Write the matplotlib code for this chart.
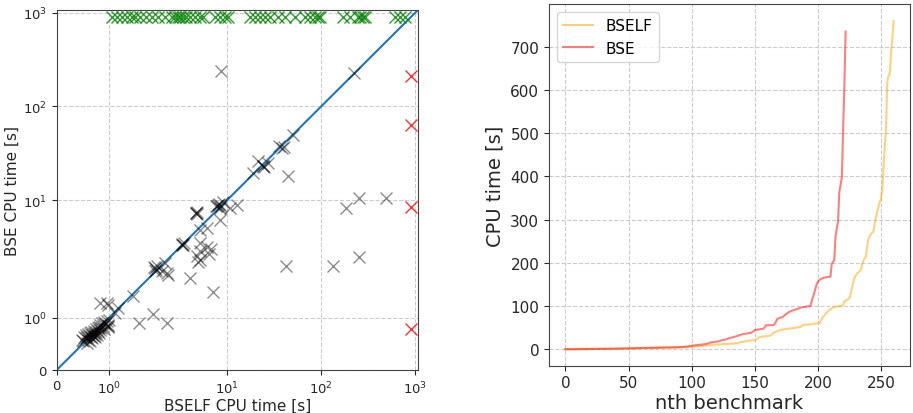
import matplotlib
matplotlib.use("Agg")
import matplotlib.pyplot as plt

TIMEOUT = 900

# benchmarks solved by both tools (BSELF time, BSE time) [s]
both_bself = [
    0.47, 0.5, 0.52, 0.55, 0.55, 0.58, 0.6, 0.6, 0.62, 0.63,
    0.65, 0.66, 0.68, 0.68, 0.7, 0.7, 0.72, 0.73, 0.74, 0.75,
    0.76, 0.78, 0.78, 0.8, 0.8, 0.82, 0.83, 0.85, 0.86, 0.88,
    0.9, 0.9, 0.92, 0.95, 0.97, 0.98, 1.0, 0.64, 0.57, 0.7,
    0.82, 0.95, 0.98, 1.11, 1.17, 1.46, 1.58, 1.83, 2.27, 0.98,
    1.88, 1.9, 1.85, 1.92, 1.87, 2.04,
    2.18, 2.36, 2.27, 4.03, 4.93, 7.0,
    3.3, 3.4, 3.45, 3.35,
    5.14, 6.07, 6.8, 5.1, 6.4, 4.74, 5.14,
    5.14, 6.07, 4.7, 4.75, 4.8, 4.65, 8.4, 8.05, 7.9, 8.1, 7.6,
    8.4, 10.7, 12.6, 8.6, 9.0,
    19.0, 21.4, 24.3, 24.0, 24.5, 27.4, 38.0, 36.0, 40.0, 50.0, 44.0,
    182.0, 255.0, 490.0, 255.0, 133.0, 42.0,
    8.6, 224.0,
]
both_bse = [
    0.58, 0.55, 0.62, 0.6, 0.66, 0.63, 0.58, 0.68, 0.64, 0.7,
    0.62, 0.72, 0.66, 0.6, 0.7, 0.75, 0.68, 0.62, 0.78, 0.72,
    0.66, 0.8, 0.74, 0.7, 0.82, 0.77, 0.86, 0.8, 0.9, 0.84,
    0.92, 0.78, 0.88, 0.93, 0.86, 0.82, 0.95, 0.56, 0.52, 0.64,
    1.28, 1.29, 1.25, 1.09, 1.18, 1.41, 0.9, 1.07, 0.9, 0.84,
    1.95, 1.92, 1.98, 2.0, 1.9, 1.89,
    2.12, 1.82, 1.86, 1.76, 2.21, 1.5,
    3.4, 3.35, 3.5, 3.3,
    3.48, 3.2, 3.0, 2.9, 2.63, 2.52, 2.31,
    4.83, 5.04, 7.3, 7.4, 7.2, 7.35, 6.2, 8.9, 8.7, 9.0, 8.7,
    8.2, 8.2, 8.9, 8.7, 9.5,
    19.5, 25.9, 22.9, 23.2, 22.6, 24.8, 36.0, 38.0, 37.0, 50.0, 18.0,
    8.2, 10.5, 10.6, 2.5, 2.0, 2.0,
    242.0, 230.0,
]

# BSE timed out, BSELF solved: BSELF time [s]
bse_timeout_bself = [
    1.05, 1.15, 1.24, 1.34, 1.44, 1.49, 1.59, 1.7, 1.82, 1.93,
    2.18, 2.59, 2.79, 3.0, 3.15, 3.39, 3.65, 4.03, 4.55, 5.14,
    5.53, 7.43, 8.4, 9.5, 10.2, 17.5, 19.8, 22.4, 25.3, 28.6,
    34.8, 41.3, 52.8, 67.4, 76.1, 86.1, 92.7, 97.3, 171.0, 203.0,
    247.0, 259.0, 279.0, 293.0, 611.0, 691.0, 780.0,
]

# BSELF timed out, BSE solved: BSE time [s]
bself_timeout_bse = [213.0, 63.0, 8.4, 0.79]

# sorted solve times for the cactus plot [s]
bself_sorted = [
    0.4, 0.45, 0.5, 0.5, 0.52, 0.55, 0.55, 0.58, 0.6, 0.6,
    0.62, 0.63, 0.65, 0.66, 0.68, 0.7, 0.7, 0.72, 0.74, 0.75,
    0.76, 0.78, 0.8, 0.8, 0.82, 0.84, 0.85, 0.87, 0.88, 0.9,
    0.92, 0.95, 0.97, 1.0, 1.02, 1.05, 1.1, 1.12, 1.15, 1.2,
    1.25, 1.3, 1.35, 1.4, 1.45, 1.5, 1.55, 1.6, 1.7, 1.75,
    1.8, 1.85, 1.9, 1.95, 2.0, 2.1, 2.2, 2.3, 2.4, 2.5,
    2.6, 2.7, 2.8, 2.9, 3.0, 3.1, 3.2, 3.3, 3.4, 3.5,
    3.6, 3.7, 3.8, 3.9, 4.0, 4.0, 4.1, 4.1, 4.2, 4.2,
    4.3, 4.3, 4.4, 4.4, 4.5, 4.5, 4.6, 4.6, 4.7, 4.8,
    4.9, 5.0, 5.0, 5.1, 5.2, 5.3, 5.3, 5.4, 5.5, 5.6,
    5.8, 6.0, 6.3, 6.5, 6.8, 7.0, 7.3, 7.5, 7.7, 8.0,
    8.3, 8.6, 9.0, 9.4, 9.8, 10.2, 10.5, 10.8, 11.0, 11.2,
    11.4, 11.5, 11.7, 11.8, 12.0, 12.1, 12.2, 12.3, 12.5, 12.6,
    12.8, 13.0, 13.2, 13.5, 13.8, 14.0, 14.2, 14.5, 16.0, 17.0,
    17.5, 18.0, 18.5, 19.0, 19.5, 20.0, 20.5, 21.0, 21.2, 21.5,
    21.5, 23.0, 25.0, 27.0, 28.5, 29.0, 29.5, 30.0, 30.0, 30.5,
    30.8, 31.5, 32.0, 32.6, 36.0, 39.0, 40.0, 41.0, 42.5, 43.5,
    44.6, 45.5, 46.0, 46.5, 47.0, 47.3, 47.6, 48.0, 48.0, 48.5,
    49.0, 49.5, 50.0, 50.5, 51.0, 51.5, 52.0, 54.0, 56.0, 56.5,
    57.0, 57.2, 57.5, 57.7, 57.8, 58.0, 59.0, 59.5, 59.8, 60.0,
    60.0, 60.5, 65.0, 70.0, 75.0, 78.0, 82.0, 85.0, 88.0, 90.7,
    93.0, 95.0, 97.0, 98.0, 98.5, 99.0, 99.5, 100.0, 100.5, 101.0,
    102.0, 110.0, 112.0, 115.0, 116.0, 118.0, 128.0, 141.0, 155.0, 165.0,
    171.0, 175.0, 178.0, 181.0, 183.0, 195.0, 205.0, 210.0, 214.0, 235.0,
    256.0, 262.0, 266.0, 270.0, 272.0, 290.0, 305.0, 318.0, 330.0, 340.0,
    348.0, 371.0, 418.0, 470.0, 510.0, 618.0, 633.0, 637.0, 687.0, 720.0,
    760.0,
]
bse_sorted = [
    0.4, 0.45, 0.5, 0.52, 0.55, 0.58, 0.6, 0.62, 0.65, 0.68,
    0.7, 0.72, 0.75, 0.78, 0.8, 0.82, 0.85, 0.88, 0.9, 0.92,
    0.95, 1.0, 1.05, 1.1, 1.15, 1.2, 1.25, 1.3, 1.3, 1.3,
    1.35, 1.4, 1.45, 1.5, 1.55, 1.6, 1.65, 1.7, 1.75, 1.8,
    1.85, 1.9, 1.95, 2.0, 2.05, 2.1, 2.15, 2.2, 2.3, 2.4,
    2.5, 2.6, 2.7, 2.8, 2.9, 3.0, 3.1, 3.2, 3.3, 3.4,
    3.5, 3.5, 3.6, 3.6, 3.7, 3.7, 3.8, 3.8, 3.9, 3.9,
    4.0, 4.0, 4.1, 4.1, 4.2, 4.2, 4.3, 4.3, 4.4, 4.4,
    4.5, 4.5, 4.6, 4.6, 4.7, 4.7, 4.8, 4.8, 4.9, 5.0,
    5.2, 5.4, 5.6, 5.8, 6.0, 6.3, 6.6, 7.0, 7.5, 8.0,
    8.5, 9.0, 9.3, 9.6, 9.9, 10.2, 10.5, 10.8, 11.0, 11.5,
    12.0, 12.5, 13.0, 14.0, 15.0, 16.0, 16.5, 17.0, 17.5, 17.8,
    18.0, 18.5, 19.0, 20.0, 21.5, 22.0, 22.5, 23.0, 24.0, 25.0,
    26.0, 27.0, 27.7, 28.5, 29.0, 30.0, 31.0, 32.0, 33.0, 34.0,
    35.0, 35.5, 36.0, 36.5, 37.0, 37.5, 38.0, 38.5, 40.0, 42.0,
    44.6, 45.0, 45.5, 46.0, 46.5, 47.0, 47.5, 48.0, 52.0, 56.0,
    56.0, 56.0, 56.0, 56.0, 56.0, 56.5, 60.0, 65.0, 71.0, 72.0,
    73.0, 74.0, 75.0, 77.0, 80.0, 82.0, 84.0, 86.0, 88.0, 89.0,
    90.0, 91.0, 92.0, 93.0, 94.0, 95.0, 96.0, 97.0, 97.5, 98.0,
    98.5, 99.0, 99.5, 100.0, 100.0, 110.0, 120.0, 129.0, 140.0, 150.0,
    156.0, 160.0, 162.0, 164.0, 165.0, 166.0, 166.5, 167.0, 167.5, 168.0,
    168.0, 198.0, 202.0, 206.0, 260.0, 280.0, 295.0, 364.0, 380.0, 398.0,
    500.0, 610.0, 735.0,
]

plt.rcParams["font.family"] = "DejaVu Sans"
text_col = "#262626"

fig = plt.figure(figsize=(9.13, 4.14), dpi=100)
ax1 = fig.add_axes([0.0624, 0.1046, 0.3957, 0.8696])
ax2 = fig.add_axes([0.6013, 0.1143, 0.3954, 0.8729])

# --- scatter: BSELF vs BSE ---
lim = 1.2 * TIMEOUT
ax1.plot([0, lim], [0, lim], color="C0", lw=1.5, zorder=2)
ax1.plot(both_bself, both_bse, "x", color="black", alpha=0.45,
         ms=8.5, mew=1.0, zorder=3)
ax1.plot(bse_timeout_bself, [TIMEOUT] * len(bse_timeout_bself), "x",
         color="green", alpha=0.8, ms=8.5, mew=1.0, zorder=3)
ax1.plot([TIMEOUT] * len(bself_timeout_bse), bself_timeout_bse, "x",
         color="red", alpha=0.8, ms=8.5, mew=1.0, zorder=3)
ax1.set_xscale("symlog", linthresh=2)
ax1.set_yscale("symlog", linthresh=2)
ax1.set_xlim(0, lim)
ax1.set_ylim(0, lim)
ax1.set_xticks([0, 1, 10, 100, 1000])
ax1.set_yticks([0, 1, 10, 100, 1000])
ax1.minorticks_off()
ax1.set_xlabel("BSELF CPU time [s]", fontsize=11, color=text_col, labelpad=1)
ax1.set_ylabel("BSE CPU time [s]", fontsize=11, color=text_col, labelpad=2)
ax1.grid(True, linestyle="--", color="0.8", lw=0.8)
ax1.set_axisbelow(True)
ax1.tick_params(labelsize=9.5, colors=text_col)

# --- cactus plot ---
ax2.plot(range(len(bself_sorted)), bself_sorted, color="orange", alpha=0.5,
         lw=1.5, label="BSELF")
ax2.plot(range(len(bse_sorted)), bse_sorted, color="red", alpha=0.5,
         lw=1.5, label="BSE")
ax2.set_xlabel("nth benchmark", fontsize=14, color=text_col, labelpad=2)
ax2.set_ylabel("CPU time [s]", fontsize=14, color=text_col)
ax2.grid(True, linestyle="--", color="0.8", lw=0.8)
ax2.set_axisbelow(True)
ax2.legend(loc="upper left", fontsize=11)
ax2.tick_params(labelsize=11, colors=text_col)

for ax in (ax1, ax2):
    for sp in ax.spines.values():
        sp.set_color("#444444")

fig.savefig("out.png", dpi=100)
